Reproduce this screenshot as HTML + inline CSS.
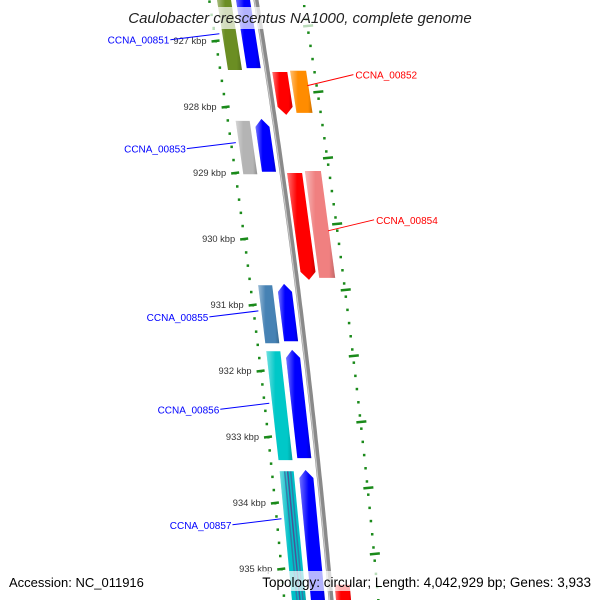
<!DOCTYPE html>
<html><head><meta charset="utf-8"><style>
html,body{margin:0;padding:0;background:#fff;width:600px;height:600px;overflow:hidden;}
svg{display:block;font-family:"Liberation Sans","DejaVu Sans",sans-serif;overflow:hidden;}
</style></head><body>
<svg id="map" width="600" height="600" viewBox="0 0 600 600">
<defs>
<linearGradient id="shade" x1="0" x2="1" y1="0" y2="0">
<stop offset="0" stop-color="#fff" stop-opacity="0.45"/><stop offset="0.35" stop-color="#fff" stop-opacity="0"/><stop offset="0.8" stop-color="#000" stop-opacity="0"/><stop offset="1" stop-color="#000" stop-opacity="0.2"/>
</linearGradient>
<clipPath id="frame"><rect x="0" y="0" width="600" height="600"/></clipPath>
</defs>
<g clip-path="url(#frame)">
<g id="rings"></g>
<g id="backbone"></g>
<g id="features"></g>
<g id="labels"></g>
</g>
<rect x="118" y="7" width="364" height="22" fill="#fff" opacity="0.7"/>
<text x="300" y="23" text-anchor="middle" font-size="15" font-style="italic" fill="#222">Caulobacter crescentus NA1000, complete genome</text>
<rect x="4" y="571" width="150" height="20" fill="#fff" opacity="0.7"/>
<text x="9" y="587" font-size="13" fill="#000">Accession: NC_011916</text>
<rect x="258" y="571" width="338" height="20" fill="#fff" opacity="0.7"/>
<text x="591" y="587" text-anchor="end" font-size="13.5" fill="#000">Topology: circular; Length: 4,042,929 bp; Genes: 3,933</text>
</svg>
<script>
// kbp ticks
const majorTicks = [927, 928, 929, 930, 931, 932, 933, 934, 935];
const tickLabels = ["927 kbp","928 kbp","929 kbp","930 kbp","931 kbp","932 kbp","933 kbp","934 kbp","935 kbp"];
// features: start/end in kbp
const featStart = [926.30, 926.30, 927.47, 927.45, 928.21, 928.18, 929.00, 928.97, 930.70, 930.68, 931.70, 931.68, 933.52, 933.50, 935.24];
const featEnd   = [927.44, 927.41, 928.12, 928.09, 929.02, 928.98, 930.62, 930.59, 931.58, 931.55, 933.35, 933.32, 935.70, 935.70, 935.70];
const featLane  = ["LO","LI","RI","RO","LO","LI","RI","RO","LO","LI","LO","LI","LO","LI","RI"];
const featArrow = ["none","none","end","none","none","start","end","none","none","start","none","start","none","start","none"];
const featColor = ["#6b8e23","#0000ff","#ff0000","#ff8c00","#b4b4b4","#0000ff","#ff0000","#f08080","#4682b4","#0000ff","#00c8c8","#0000ff","#00c0c8","#0000ff","#ff0000"];
const geneNames = ["CCNA_00851","CCNA_00852","CCNA_00853","CCNA_00854","CCNA_00855","CCNA_00856","CCNA_00857"];
const geneKbp   = [926.95, 927.6, 928.6, 929.8, 931.15, 932.55, 934.3];
const geneSide  = ["L","R","L","R","L","L","L"];
const geneColor = ["#0000ff","#ff0000","#0000ff","#ff0000","#0000ff","#0000ff","#0000ff"];

const NS="http://www.w3.org/2000/svg";
function yOf(k){return 41+(k-927)*66;}
function bb(y){return 256+0.1617*y-0.000061*y*y;}
const lanes={LO:[-39,-25],LI:[-20,-6],RI:[5,20],RO:[23,39]};
function mk(tag,attrs,parent){const e=document.createElementNS(NS,tag);for(const k in attrs)e.setAttribute(k,attrs[k]);parent.appendChild(e);return e;}
const rings=document.getElementById('rings');
const bg=document.getElementById('backbone');
let pts=[];for(let y=-5;y<=605;y+=5)pts.push(bb(y).toFixed(1)+","+y);
const bl=mk('polyline',{points:pts.join(" "),fill:"none",stroke:"#8a8a8a","stroke-width":5},bg);


let pts2=[];for(let y=-5;y<=605;y+=5)pts2.push((bb(y)-1.5).toFixed(1)+","+y);
mk('polyline',{points:pts2.join(" "),fill:"none",stroke:"#c8c8c8","stroke-width":1.2},bg);
for(let k=926.2;k<=936.0;k+=0.2){
  const y=yOf(k);
  const d1=mk('rect',{x:bb(y)-48,y:y-1,width:2.5,height:2.5,fill:"#1a8a1a"},rings);
  
  
  const y2=yOf(k+0.07);
  const d2=mk('rect',{x:bb(y2)+46,y:y2-1,width:2.5,height:2.5,fill:"#1a8a1a"},rings);
  
  
}
majorTicks.forEach((k,i)=>{
  const y=yOf(k),x=bb(y)-47;
  const t=mk('line',{x1:x-4,y1:y+0.5,x2:x+4,y2:y-0.5,stroke:"#1a8a1a","stroke-width":2.5},rings);
  
  
  const tx=mk('text',{x:x-9,y:y+3,"text-anchor":"end","font-size":"9.3",fill:"#333"},rings);
  tx.textContent=tickLabels[i];
  
  
});
for(let k=926.77;k<=936;k+=1){
  const y=yOf(k),x=bb(y)+48;
  const t=mk('line',{x1:x-5,y1:y+0.5,x2:x+5,y2:y-0.5,stroke:"#1a8a1a","stroke-width":2.5},rings);
  
  
}
const fg=document.getElementById('features');
featStart.forEach((s,i)=>{
  const y1=yOf(s),y2=yOf(featEnd[i]);const[a,b]=lanes[featLane[i]];
  const h=8;let p=[];
  const ya=featArrow[i]==="start"?y1+h:y1, yb=featArrow[i]==="end"?y2-h:y2;
  p.push([bb(ya)+a,ya]);
  if(featArrow[i]==="start")p.push([bb(y1)+(a+b)/2,y1]);
  p.push([bb(ya)+b,ya]);p.push([bb(yb)+b,yb]);
  if(featArrow[i]==="end")p.push([bb(y2)+(a+b)/2,y2]);
  p.push([bb(yb)+a,yb]);
  const str=p.map(q=>q[0].toFixed(1)+","+q[1].toFixed(1)).join(" ");
  const f=mk('polygon',{points:str,fill:featColor[i]},fg);
  
  
  mk('polygon',{points:str,fill:"url(#shade)"},fg);
  if(i===12){
    for(let j=0;j<3;j++){const o=a+5+j*3;
      mk('line',{x1:bb(y1)+o,y1:y1,x2:bb(y2)+o,y2:y2,stroke:j===1?"#5a3a8a":"#3a6aa0","stroke-width":1.5,opacity:0.8},fg);}
  }
});
const lg=document.getElementById('labels');
geneNames.forEach((n,i)=>{
  const y=yOf(geneKbp[i]);
  let lx,ly,ex,ey,anchor;
  if(geneSide[i]==="L"){ex=bb(y-4)-42;ey=y-4;lx=ex-50;ly=y+3;anchor="end";}
  else{ex=bb(y+5)+38;ey=y+5;lx=ex+48;ly=y-5;anchor="start";}
  const l=mk('line',{x1:ex,y1:ey,x2:geneSide[i]==="L"?lx+1:lx-2,y2:ly-1,stroke:geneColor[i],"stroke-width":1},lg);
  
  
  const t=mk('text',{x:lx,y:ly+3,"text-anchor":anchor,"font-size":"10",fill:geneColor[i]},lg);
  t.textContent=n;
  
  
});
</script>
</body></html>
